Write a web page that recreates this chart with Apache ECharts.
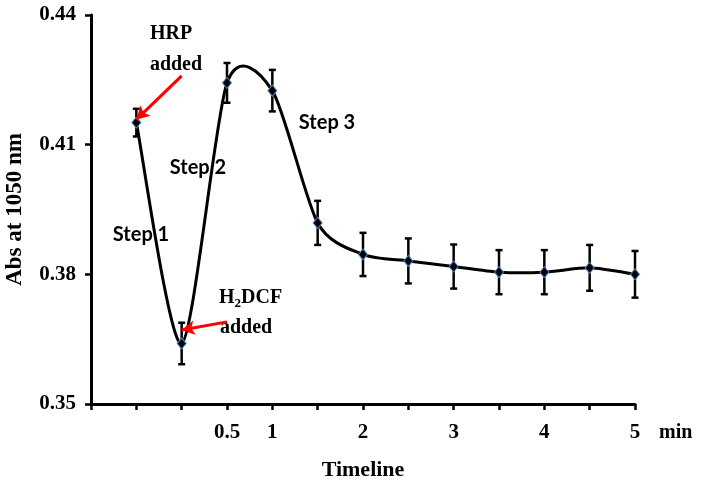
<!DOCTYPE html>
<html>
<head>
<meta charset="utf-8">
<style>
html,body{margin:0;padding:0;background:#fff;}
#chart{width:701px;height:486px;}
</style>
<script src="https://cdn.jsdelivr.net/npm/echarts@6/dist/echarts.min.js"></script>
</head>
<body>
<div id="chart"></div>
<script>
// Tick labels along the timeline axis (first slot is the axis origin)
var tickLabels = ['', '', '', '0.5', '1', '', '2', '', '3', '', '4', '', '5'];
// Absorbance at 1050 nm (null at the axis origin)
var absValues = [null, 0.4151, 0.3640, 0.4243, 0.4225, 0.3919, 0.3846, 0.3831, 0.3818, 0.3805, 0.3805, 0.3815, 0.3800];
// Error (± standard deviation)
var errValues = [null, 0.0032, 0.0048, 0.0046, 0.0048, 0.0051, 0.0050, 0.0052, 0.0051, 0.0051, 0.0051, 0.0053, 0.0054];
var yTicks = [0.35, 0.38, 0.41, 0.44];

var serif = '"Liberation Serif", "Times New Roman", serif';
var sans = 'Lato, "Open Sans", sans-serif';

var pointData = [];
var errData = [];
for (var i = 0; i < absValues.length; i++) {
  if (absValues[i] != null) {
    pointData.push([i, absValues[i]]);
    errData.push([i, absValues[i], errValues[i]]);
  }
}

var chart = echarts.init(document.getElementById('chart'), null, {renderer: 'canvas'});
var option = {
  backgroundColor: '#ffffff',
  animation: false,
  grid: {left: 91, right: 66, top: 15, bottom: 82, containLabel: false, outerBoundsMode: 'none'},
  xAxis: {
    type: 'category',
    data: tickLabels,
    boundaryGap: false,
    name: 'Timeline',
    nameLocation: 'middle',
    nameGap: 55,
    nameTextStyle: {fontFamily: serif, fontWeight: 'bold', fontSize: 22, color: '#000'},
    axisLine: {lineStyle: {color: '#000', width: 3}},
    axisTick: {show: true, interval: 0, length: 6, lineStyle: {color: '#000', width: 2.5}},
    axisLabel: {interval: 0, margin: 18, fontFamily: serif, fontWeight: 'bold', fontSize: 21, color: '#000'},
    splitLine: {show: false}
  },
  yAxis: {
    type: 'value',
    min: yTicks[0],
    max: yTicks[yTicks.length - 1],
    interval: 0.03,
    name: 'Abs at 1050 nm',
    nameLocation: 'middle',
    nameGap: 64,
    nameRotate: 90,
    nameTextStyle: {fontFamily: serif, fontWeight: 'bold', fontSize: 23, color: '#000'},
    axisLine: {show: true, lineStyle: {color: '#000', width: 3}},
    axisTick: {show: true, length: 6, lineStyle: {color: '#000', width: 2.5}},
    axisLabel: {margin: 15, fontFamily: serif, fontWeight: 'bold', fontSize: 21, color: '#000',
      formatter: function (v) { return v.toFixed(2); }},
    splitLine: {show: false}
  },
  series: [
    {
      // smoothed curve (Catmull-Rom style, as in the original spreadsheet chart)
      type: 'custom',
      data: [[0, 0]],
      z: 2,
      silent: true,
      renderItem: function (params, api) {
        var pts = pointData.map(function (d) { return api.coord([d[0], d[1]]); });
        var n = pts.length;
        var t = 0.13;
        var path = 'M' + pts[0][0] + ' ' + pts[0][1];
        for (var k = 0; k < n - 1; k++) {
          var p0 = pts[Math.max(k - 1, 0)], p1 = pts[k], p2 = pts[k + 1], p3 = pts[Math.min(k + 2, n - 1)];
          var c1x = p1[0] + (p2[0] - p0[0]) * t, c1y = p1[1] + (p2[1] - p0[1]) * t;
          var c2x = p2[0] - (p3[0] - p1[0]) * t, c2y = p2[1] - (p3[1] - p1[1]) * t;
          path += ' C' + c1x + ' ' + c1y + ' ' + c2x + ' ' + c2y + ' ' + p2[0] + ' ' + p2[1];
        }
        return {
          type: 'path',
          shape: {pathData: path},
          style: {fill: null, stroke: '#000', lineWidth: 3}
        };
      }
    },
    {
      type: 'custom',
      data: errData,
      encode: {x: 0, y: 1},
      z: 3,
      silent: true,
      renderItem: function (params, api) {
        var x = api.value(0), v = api.value(1), e = api.value(2);
        var top = api.coord([x, v + e]);
        var bot = api.coord([x, v - e]);
        var cap = 3.5;
        var st = {stroke: '#000', lineWidth: 2.5};
        return {
          type: 'group',
          children: [
            {type: 'line', shape: {x1: top[0], y1: top[1], x2: bot[0], y2: bot[1]}, style: st},
            {type: 'line', shape: {x1: top[0] - cap, y1: top[1], x2: top[0] + cap, y2: top[1]}, style: st},
            {type: 'line', shape: {x1: bot[0] - cap, y1: bot[1], x2: bot[0] + cap, y2: bot[1]}, style: st}
          ]
        };
      }
    },
    {
      type: 'scatter',
      data: pointData,
      symbol: 'diamond',
      symbolSize: [9, 11],
      itemStyle: {color: '#000', borderColor: '#4f81bd', borderWidth: 1, opacity: 1},
      z: 4,
      markLine: {
        silent: true,
        symbol: ['none', 'arrow'],
        symbolSize: [11, 13],
        label: {show: false},
        lineStyle: {color: '#ff0000', width: 3, type: 'solid'},
        data: [
          [{coord: [1.61, 0.4259]}, {coord: [1.22, 0.4158]}],
          [{coord: [2.80, 0.3690]}, {coord: [2.16, 0.3671]}]
        ]
      }
    }
  ],
  graphic: [
    {type: 'text', x: 171, y: 34, style: {text: 'HRP', font: 'bold 20px ' + serif, fill: '#000', textAlign: 'center', textVerticalAlign: 'middle', align: 'center', verticalAlign: 'middle'}},
    {type: 'text', x: 176, y: 65, style: {text: 'added', font: 'bold 20px ' + serif, fill: '#000', textAlign: 'center', textVerticalAlign: 'middle', align: 'center', verticalAlign: 'middle'}},
    {type: 'text', x: 219, y: 298, style: {
      text: 'H{s|2}DCF', font: 'bold 20px ' + serif, fill: '#000', textAlign: 'left', textVerticalAlign: 'middle', align: 'left', verticalAlign: 'middle',
      rich: {s: {font: 'bold 13px ' + serif, fill: '#000', padding: [12, 0, 0, 0]}}
    }},
    {type: 'text', x: 220, y: 328, style: {text: 'added', font: 'bold 20px ' + serif, fill: '#000', textAlign: 'left', textVerticalAlign: 'middle', align: 'left', verticalAlign: 'middle'}},
    {type: 'text', x: 141, y: 235, style: {text: 'Step 1', font: 'bold 20px ' + sans, fill: '#000', textAlign: 'center', textVerticalAlign: 'middle', align: 'center', verticalAlign: 'middle'}},
    {type: 'text', x: 198, y: 168, style: {text: 'Step 2', font: 'bold 20px ' + sans, fill: '#000', textAlign: 'center', textVerticalAlign: 'middle', align: 'center', verticalAlign: 'middle'}},
    {type: 'text', x: 327, y: 123, style: {text: 'Step 3', font: 'bold 20px ' + sans, fill: '#000', textAlign: 'center', textVerticalAlign: 'middle', align: 'center', verticalAlign: 'middle'}},
    {type: 'text', x: 659, y: 433, style: {text: 'min', font: 'bold 20px ' + serif, fill: '#000', textAlign: 'left', textVerticalAlign: 'middle', align: 'left', verticalAlign: 'middle'}}
  ]
};
chart.setOption(option);
</script>
</body>
</html>
